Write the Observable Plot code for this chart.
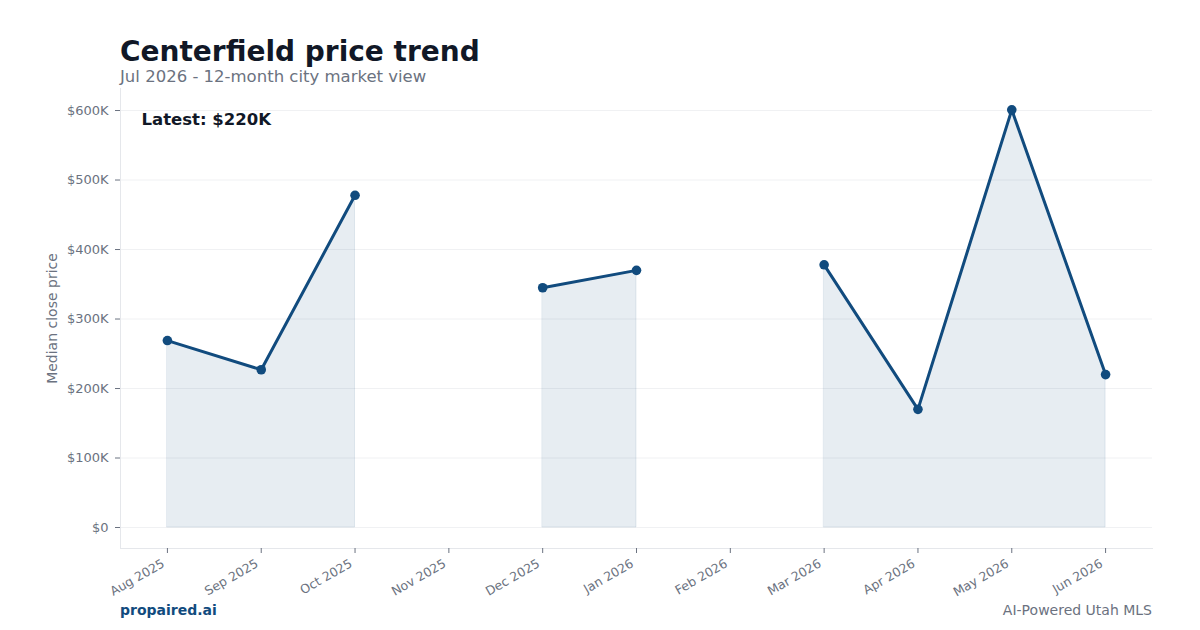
<!DOCTYPE html>
<html>
<head>
<meta charset="utf-8">
<script src="https://cdn.jsdelivr.net/npm/d3@7"></script>
<script src="https://cdn.jsdelivr.net/npm/@observablehq/plot@0.6"></script>
<style>
  html, body { margin: 0; padding: 0; background: #fff; width: 1200px; height: 630px; overflow: hidden; font-family: "DejaVu Sans", sans-serif; }
  #wrap { position: relative; width: 1200px; height: 630px; }
  #title { position: absolute; left: 120px; top: 38px; font-size: 28px; font-weight: bold; color: #111827; line-height: 1; }
  #subtitle { position: absolute; left: 120px; top: 69px; font-size: 16.5px; color: #6b7280; line-height: 1; }
  #chart { position: absolute; left: 0; top: 88px; }
  #brand { position: absolute; left: 120px; top: 603px; font-size: 14px; font-weight: bold; color: #114b7e; line-height: 1; }
  #source { position: absolute; right: 48px; top: 603px; font-size: 14px; color: #6b7280; line-height: 1; }
</style>
</head>
<body>
<div id="wrap">
  <div id="title">Centerfield price trend</div>
  <div id="subtitle">Jul 2026 - 12-month city market view</div>
  <div id="chart"></div>
  <div id="brand">propaired.ai</div>
  <div id="source">AI-Powered Utah MLS</div>
</div>
<script>
const months = ["Aug 2025","Sep 2025","Oct 2025","Nov 2025","Dec 2025","Jan 2026","Feb 2026","Mar 2026","Apr 2026","May 2026","Jun 2026"];
const prices = [269000, 227000, 478000, null, 345000, 370000, null, 378000, 170000, 601000, 220000];
const yTicks = [0, 100000, 200000, 300000, 400000, 500000, 600000];
const latestLabel = "Latest: $220K";
const yLabel = "Median close price";

const data = months.map((m, i) => ({month: m, price: prices[i]}));
const pts = data.filter(d => d.price != null);
const lineColor = "#114b7e";
const fmt = d => d === 0 ? "$0" : `$${d / 1000}K`;

const chart = Plot.plot({
  width: 1200,
  height: 512,
  marginLeft: 120,
  marginRight: 48,
  marginTop: 0,
  marginBottom: 52,
  style: { fontFamily: "DejaVu Sans, sans-serif", fontSize: "13px", color: "#6b7280", background: "#fff" },
  x: { type: "point", domain: months, padding: 0.5, round: false },
  y: { domain: [-30200, 631700] },
  marks: [
    Plot.gridY(yTicks, { stroke: "#f0f1f3", strokeOpacity: 1 }),
    Plot.frame({ anchor: "left", stroke: "#e5e7eb" }),
    Plot.frame({ anchor: "bottom", stroke: "#e5e7eb" }),
    Plot.areaY(data, { x: "month", y1: 0, y2: d => d.price == null ? NaN : d.price, fill: lineColor, fillOpacity: 0.1, stroke: lineColor, strokeOpacity: 0.1 }),
    Plot.line(data, { x: "month", y: d => d.price == null ? NaN : d.price, stroke: lineColor, strokeWidth: 3, strokeLinejoin: "round", strokeLinecap: "round" }),
    Plot.dot(pts, { x: "month", y: "price", fill: lineColor, r: 4.8 }),
    Plot.axisY({ ticks: yTicks, tickFormat: fmt, tickSize: 5, tickPadding: 7, stroke: "#6b7280", fill: "#6b7280", fontSize: 13, label: null }),
    Plot.text([yLabel], { frameAnchor: "left", dx: -68, rotate: -90, textAnchor: "middle", text: d => d, fontSize: 14, fill: "#6b7280" }),
    Plot.axisX({ tickSize: 5, tickFormat: () => "", stroke: "#6b7280", label: null }),
    Plot.axisX({ tickRotate: -30, tickSize: 0, tickPadding: 9, dx: -4, dy: 5, fill: "#6b7280", fontSize: 12.5, label: null }),
    Plot.text([latestLabel], { frameAnchor: "top-left", dx: 21, dy: 25, text: d => d, fontSize: 16.5, fontWeight: "bold", fill: "#111827" })
  ]
});
document.getElementById("chart").appendChild(chart);
</script>
</body>
</html>
